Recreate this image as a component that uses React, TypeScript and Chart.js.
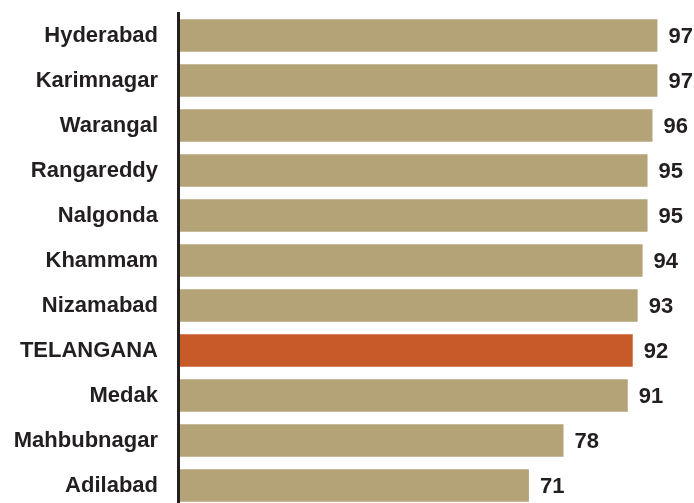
import React, { useEffect, useRef } from "react";
import { Chart, registerables } from "chart.js";

Chart.register(...registerables);

const categories = [
  "Hyderabad",
  "Karimnagar",
  "Warangal",
  "Rangareddy",
  "Nalgonda",
  "Khammam",
  "Nizamabad",
  "TELANGANA",
  "Medak",
  "Mahbubnagar",
  "Adilabad",
];
const values = [97, 97, 96, 95, 95, 94, 93, 92, 91, 78, 71];
const highlight = "TELANGANA";
const baseColor = "#b5a378";
const highlightColor = "#c65a29";
const textColor = "#231f20";
const fontFamily = "'Liberation Sans', Arial, Helvetica, sans-serif";

const valueLabels = {
  id: "valueLabels",
  afterDatasetsDraw(chart: any) {
    const ctx = chart.ctx;
    const meta = chart.getDatasetMeta(0);
    ctx.save();
    ctx.fillStyle = textColor;
    ctx.font = `bold 22px ${fontFamily}`;
    ctx.textAlign = "left";
    ctx.textBaseline = "middle";
    meta.data.forEach((bar: any, i: number) => {
      ctx.fillText(String(values[i]), bar.x + 11, bar.y + 1);
    });
    ctx.restore();
  },
};

export default function App() {
  const ref = useRef<HTMLCanvasElement | null>(null);

  useEffect(() => {
    if (!ref.current) return;
    const chart = new Chart(ref.current, {
      type: "bar",
      data: {
        labels: categories,
        datasets: [
          {
            data: values,
            backgroundColor: categories.map((c) =>
              c === highlight ? highlightColor : baseColor
            ),
            barPercentage: 0.72,
            categoryPercentage: 1,
            borderWidth: 0,
          },
        ],
      },
      options: {
        indexAxis: "y",
        animation: false,
        responsive: false,
        maintainAspectRatio: false,
        layout: { padding: { top: 13, right: 0, bottom: 0, left: 0 } },
        plugins: {
          legend: { display: false },
          tooltip: { enabled: false },
        },
        scales: {
          x: {
            display: false,
            min: 0,
            max: 104.4,
          },
          y: {
            afterFit(scale: any) {
              scale.width = 178;
              scale.paddingTop = 0;
              scale.paddingBottom = 0;
            },
            grid: { display: false, drawTicks: false },
            border: { display: true, color: textColor, width: 3, z: 1 },
            ticks: {
              padding: 20,
              color: textColor,
              font: { family: fontFamily, size: 22, weight: "bold" },
            },
          },
        },
      },
      plugins: [valueLabels],
    });
    return () => chart.destroy();
  }, []);

  return (
    <div
      style={{
        position: "fixed",
        top: 0,
        left: 0,
        width: 694,
        height: 508,
        background: "#ffffff",
      }}
    >
      <canvas ref={ref} width={694} height={508} style={{ width: 694, height: 508 }} />
    </div>
  );
}
